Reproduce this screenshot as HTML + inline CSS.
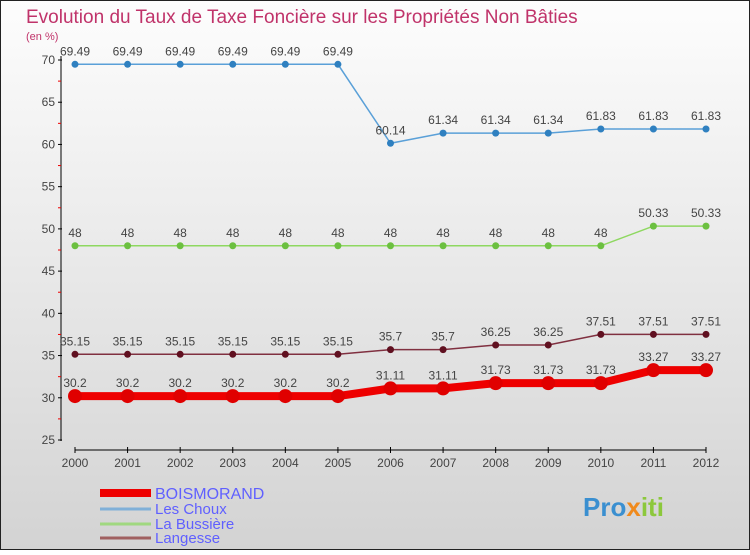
<!DOCTYPE html>
<html><head><meta charset="utf-8"><style>
body{margin:0}
#c{width:750px;height:550px;position:relative;font-family:"Liberation Sans",sans-serif}
</style></head><body>
<div id="c">
<svg id="s" width="750" height="550">
<defs><linearGradient id="bg" x1="0" y1="0" x2="0" y2="1"><stop offset="0" stop-color="#fdfdfd"/><stop offset="1" stop-color="#d3d3d3"/></linearGradient></defs>
<rect x="0.5" y="0.5" width="749" height="549" fill="url(#bg)" stroke="#222"/>
<text x="26" y="23" font-size="19" fill="#c0336a">Evolution du Taux de Taxe Foncière sur les Propriétés Non Bâties</text>
<text x="26" y="40" font-size="11" fill="#c0336a">(en %)</text>
<g id="axes"></g><g id="plot"></g><g id="legend"></g>
<text x="583" y="516" font-size="26" font-weight="bold" fill="#3a8fd0">Pro<tspan fill="#f08a1c">x</tspan><tspan fill="#8cc83c">iti</tspan></text>
</svg></div>
<script>
const years=[2000,2001,2002,2003,2004,2005,2006,2007,2008,2009,2010,2011,2012];
const yTicks=[25,30,35,40,45,50,55,60,65,70];
const boismorand=[30.2,30.2,30.2,30.2,30.2,30.2,31.11,31.11,31.73,31.73,31.73,33.27,33.27];
const lesChoux=[69.49,69.49,69.49,69.49,69.49,69.49,60.14,61.34,61.34,61.34,61.83,61.83,61.83];
const laBussiere=[48,48,48,48,48,48,48,48,48,48,48,50.33,50.33];
const langesse=[35.15,35.15,35.15,35.15,35.15,35.15,35.7,35.7,36.25,36.25,37.51,37.51,37.51];
const NS="http://www.w3.org/2000/svg";
const X=i=>75+i*(706-75)/(years.length-1);
const Y=v=>440-(v-25)*(380/45);
function mk(tag,attrs,parent,txt){const e=document.createElementNS(NS,tag);for(const k in attrs)e.setAttribute(k,attrs[k]);if(txt!==undefined)e.textContent=txt;document.getElementById(parent).appendChild(e);return e;}
let e;
e=mk('line',{x1:61,y1:56,x2:61,y2:441,stroke:'#000'},'axes');

e=mk('line',{x1:75,y1:450,x2:706,y2:450,stroke:'#000'},'axes');

yTicks.forEach(t=>{
 e=mk('line',{x1:58,y1:Y(t),x2:62,y2:Y(t),stroke:'#000'},'axes');
 
 e=mk('text',{x:55,y:Y(t)+4,'font-size':12,fill:'#444','text-anchor':'end'},'axes',t);
 
 if(t<70){e=mk('line',{x1:58,y1:Y(t+2.5),x2:61,y2:Y(t+2.5),stroke:'#e00'},'axes');
 }
});
years.forEach((y,i)=>{
 e=mk('line',{x1:X(i),y1:447,x2:X(i),y2:453,stroke:'#000'},'axes');
 
 e=mk('text',{x:X(i),y:467,'font-size':12,fill:'#444','text-anchor':'middle'},'axes',y);
 
});
function series(vals,color,w,r,dot,name){
 e=mk('polyline',{points:vals.map((v,i)=>X(i)+','+Y(v)).join(' '),fill:'none',stroke:color,'stroke-width':w},'plot');
 
 vals.forEach((v,i)=>{
  e=mk('circle',{cx:X(i),cy:Y(v),r:r,fill:dot},'plot');
  
  e=mk('text',{x:X(i),y:Y(v)-9,'font-size':12,fill:'#444','text-anchor':'middle'},'plot',v);
  
 });
}
series(lesChoux,'#5aa0d8',1.5,3.5,'#2f80c0','les-choux');
series(laBussiere,'#8ed860',1.5,3.5,'#6cc040','la-bussiere');
series(langesse,'#803040',1.5,3.5,'#601020','langesse');
series(boismorand,'#ee0000',8,7,'#e00000','boismorand');
const leg=[['BOISMORAND','#ee0000',8,493],['Les Choux','#80b0d8',3,509],['La Bussière','#a0d880',3,524],['Langesse','#a06060',3,538]];
leg.forEach(l=>{
 e=mk('line',{x1:100,y1:l[3],x2:151,y2:l[3],stroke:l[1],'stroke-width':l[2]},'legend');
 
 e=mk('text',{x:155,y:l[3]+(l[2]>5?6:5),'font-size':l[2]>5?16:15,fill:'#6060ff'},'legend',l[0]);
 
});
</script></body></html>
